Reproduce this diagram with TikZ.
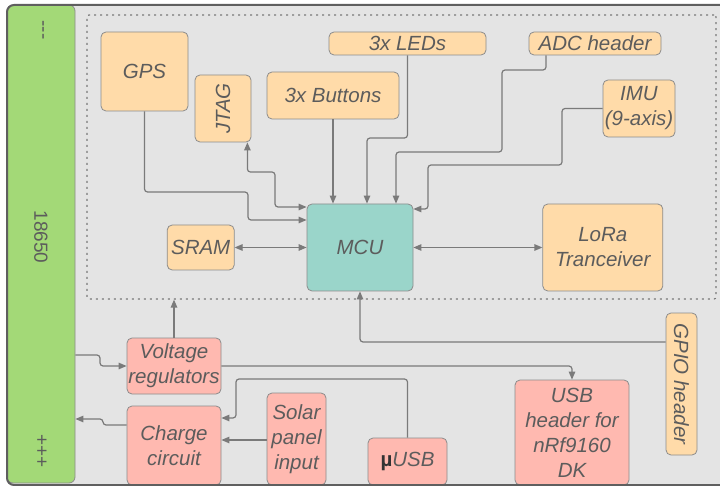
\documentclass[tikz,border=0pt]{standalone}
\usepackage{graphicx}
\usepackage{xcolor}
\usepackage{fontspec}
\setmainfont{Liberation Sans}
\usetikzlibrary{arrows.meta,positioning}

\definecolor{boardbg}{HTML}{E4E4E4}
\definecolor{boardline}{HTML}{5F5F5F}
\definecolor{cellgreen}{HTML}{A3D977}
\definecolor{perifill}{HTML}{FFDBA9}
\definecolor{powerfill}{HTML}{FFB9B0}
\definecolor{corefill}{HTML}{9AD5CA}
\definecolor{edgegray}{HTML}{8C8C8C}
\definecolor{wiregray}{HTML}{7A7A7A}
\definecolor{labelgray}{HTML}{5C5C5C}

\newcommand{\blockfont}{\fontsize{20.5}{25}\selectfont\itshape}
\newcommand{\cellfont}{\fontsize{19}{22}\selectfont}

\tikzset{
  block/.style={draw=edgegray, line width=0.8pt, rounded corners=5pt, inner sep=1pt,
    align=center, text=labelgray, font=\blockfont},
  peribox/.style={block, fill=perifill},
  powerbox/.style={block, fill=powerfill},
  wire/.style={draw=wiregray, line width=1.2pt, rounded corners=3pt,
    -{Triangle[length=8pt,width=6.5pt]}},
  biwire/.style={wire, {Triangle[length=8pt,width=6.5pt]}-{Triangle[length=8pt,width=6.5pt]}}
}

\begin{document}
\begin{tikzpicture}[x=1pt,y=-1pt]
  \useasboundingbox (0,0) rectangle (720,486);
  \fill[boardbg, rounded corners=7pt] (7,5) rectangle (750,485);

  % battery
  \node[block, fill=cellgreen, rounded corners=6pt, minimum width=68, minimum height=478] (cell) at (41,244) {};
  \node[text=labelgray, font=\cellfont] (minus) at (41,30) {\rotatebox{-90}{\hbox{-}\hbox{-}\hbox{-}}};
  \node[text=labelgray, font=\cellfont] (celltype) at (41,237) {\rotatebox{-90}{18650}};
  \node[text=labelgray, font=\cellfont] (plus) at (41,451) {\rotatebox{-90}{+++}};

  % controller area
  \node[draw=wiregray, line width=1.2pt, dash pattern=on 2pt off 4pt, rounded corners=2pt,
    minimum width=629, minimum height=284] (ctrl) at (401.5,157) {};

  \node[peribox, minimum width=87, minimum height=79] (gps) at (144.5,71.5) {GPS};
  \node[peribox, minimum width=56, minimum height=67] (jtag) at (223,108.5) {\rotatebox{90}{JTAG}};
  \node[peribox, minimum width=132, minimum height=47] (buttons) at (333,95.5) {3x Buttons};
  \node[peribox, minimum width=157, minimum height=23] (leds) at (407.5,43.5) {3x LEDs};
  \node[peribox, minimum width=132, minimum height=23] (adc) at (595,43.5) {ADC header};
  \node[peribox, minimum width=72, minimum height=57] (imu) at (639,108.5) {IMU\\(9-axis)};
  \node[block, fill=corefill, minimum width=106, minimum height=87] (mcu) at (360,247.5) {MCU};
  \node[peribox, minimum width=67, minimum height=45, left=72pt of mcu] (sram) {SRAM};
  \node[peribox, minimum width=120, minimum height=87, right=129pt of mcu] (lora) {LoRa\\Tranceiver};
  \node[peribox, minimum width=31, minimum height=142] (gpio) at (681.5,384) {\rotatebox{-90}{GPIO header}};

  % power side
  \node[powerbox, minimum width=94, minimum height=56] (vreg) at (174,366) {Voltage\\regulators};
  \node[powerbox, minimum width=94, minimum height=79] (charge) at (174,445.5) {Charge\\circuit};
  \node[powerbox, minimum width=59, minimum height=92] (solar) at (296.5,439) {Solar\\panel\\input};
  \node[powerbox, minimum width=79, minimum height=47] (musb) at (407.5,461.5) {{\color{black!80}\upshape\bfseries µ}USB};
  \node[powerbox, minimum width=114, minimum height=105] (usbh) at (572,432.5) {USB\\header for\\nRf9160\\DK};

  % connections to the MCU
  \draw[wire] (gps.south) |- (248,192) |- (mcu.west |- 0,220);
  \draw[biwire] ([xshift=-4pt]jtag.south east) |- (275,172) |- (mcu.west |- 0,207);
  \draw[wire] (buttons.south) -- (buttons.south |- mcu.north);
  \draw[wire] (leds.south) |- (367,138) -- (367,138 |- mcu.north);
  \draw[wire] ([xshift=-49pt]adc.south) |- (502,70) |- (396,152) -- (396,152 |- mcu.north);
  \draw[wire] (imu.west) -| (562,165) -| (428,209) -- (mcu.east |- 0,209);
  \draw[biwire] (sram.east) -- (mcu.west);
  \draw[biwire] (mcu.east) -- (lora.west);
  \draw[wire] (gpio.west |- 0,342) -| (mcu.south);

  % power paths
  \draw[wire] (vreg.north) -- (vreg.north |- ctrl.south);
  \draw[wire] (cell.east |- 0,355) -| (100,366) -- (vreg.west);
  \draw[wire] (vreg.east) -| (usbh.north);
  \draw[wire] (musb.north) |- (236,379) |- (charge.east |- 0,418);
  \draw[wire] (solar.west |- 0,440) -- (charge.east |- 0,440);
  \draw[wire] (charge.west |- 0,425) -| (103,419) -- (cell.east |- 0,419);

  \draw[boardline, line width=2pt, rounded corners=7pt] (7,5) rectangle (750,485);
\end{tikzpicture}
\end{document}
